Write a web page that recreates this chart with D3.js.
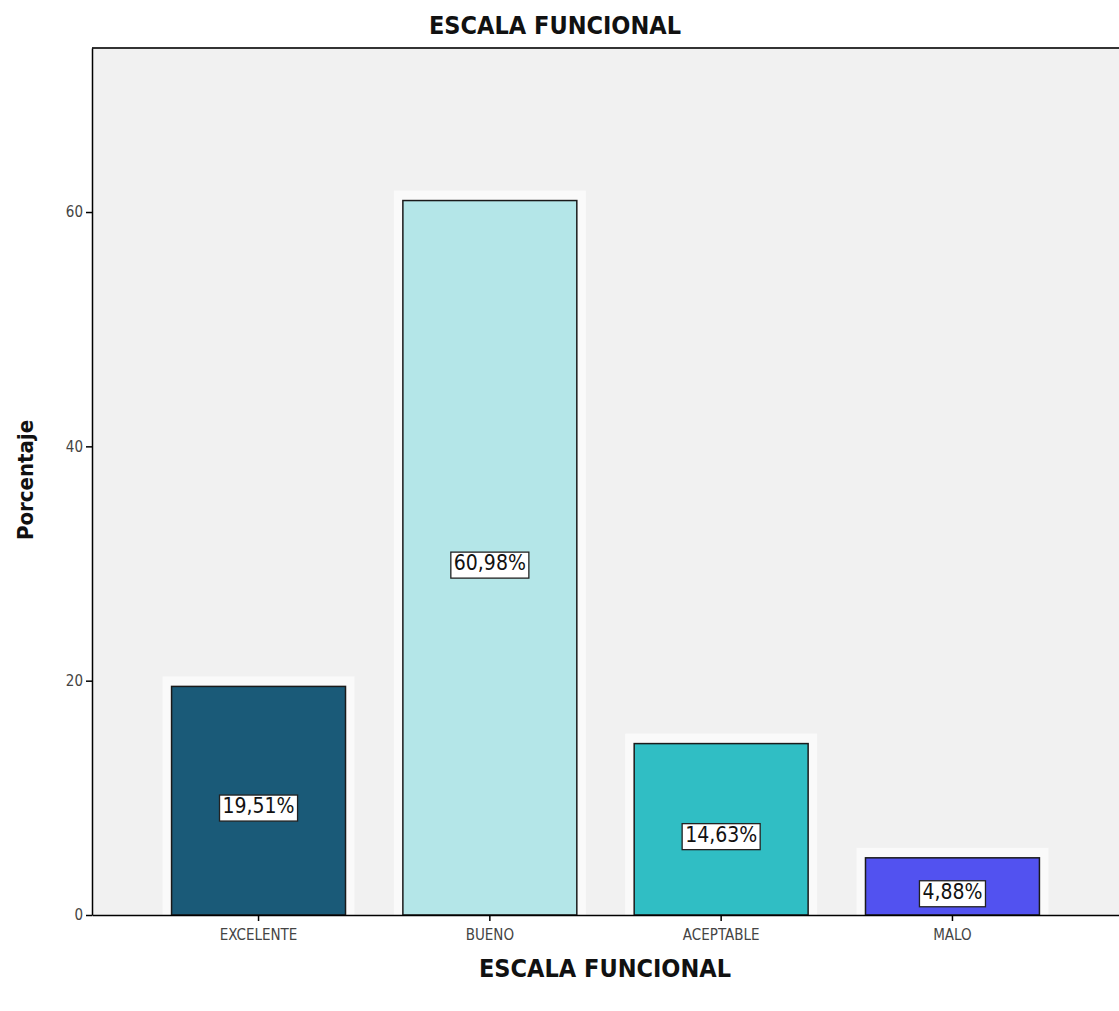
<!DOCTYPE html>
<meta charset="utf-8">
<style>
body { margin: 0; background: #fff; }
.axis text { font: 15px "DejaVu Sans Condensed", sans-serif; fill: #444; }
.axis path, .axis line { stroke: #000; stroke-width: 1.5; }
.title { font: bold 25px "DejaVu Sans Condensed", sans-serif; fill: #111; }
.lbl { font: 21px "DejaVu Sans Condensed", sans-serif; fill: #111; }
</style>
<body>
<svg width="1119" height="1011"></svg>
<script src="https://d3js.org/d3.v7.min.js"></script>
<script>
var categories = ["EXCELENTE", "BUENO", "ACEPTABLE", "MALO"];
var values = [19.51, 60.98, 14.63, 4.88];
var colors = ["#1a5a78", "#b4e6e8", "#30bec4", "#5252f0"];
var yTicks = [0, 20, 40, 60];

var data = categories.map(function(c, i) {
  return {cat: c, val: values[i], col: colors[i]};
});

var svg = d3.select("svg"),
    margin = {top: 48, right: 0, bottom: 96, left: 92},
    width = +svg.attr("width") - margin.left - margin.right,
    height = +svg.attr("height") - margin.top - margin.bottom;

var x = d3.scaleBand().domain(categories).range([0, width])
    .paddingInner(0.248).paddingOuter(0.344);
var y = d3.scaleLinear().domain([0, 74]).range([height, 0]);

var g = svg.append("g")
    .attr("transform", "translate(" + margin.left + "," + margin.top + ")");

// plot background
g.append("rect")
    .attr("width", width).attr("height", height)
    .attr("fill", "#f1f1f1");

// frame top
g.append("line")
    .attr("x1", 0).attr("x2", width).attr("y1", 0).attr("y2", 0)
    .attr("stroke", "#333").attr("stroke-width", 2);

// white halo behind bars
g.selectAll(".halo")
  .data(data)
  .enter().append("rect")
    .attr("x", function(d) { return x(d.cat) - 9; })
    .attr("y", function(d) { return y(d.val) - 10; })
    .attr("width", x.bandwidth() + 18)
    .attr("height", function(d) { return height - y(d.val) + 10; })
    .attr("fill", "#fafafa");

g.selectAll(".bar")
  .data(data)
  .enter().append("rect")
    .attr("class", "bar")
    .attr("x", function(d) { return x(d.cat); })
    .attr("y", function(d) { return y(d.val); })
    .attr("width", x.bandwidth())
    .attr("height", function(d) { return height - y(d.val); })
    .attr("fill", function(d) { return d.col; })
    .attr("stroke", "#1a1a1a")
    .attr("stroke-width", 1.5);

// value labels
var labels = g.selectAll(".vl")
  .data(data)
  .enter().append("g")
    .attr("transform", function(d) {
      return "translate(" + (x(d.cat) + x.bandwidth() / 2) + "," + (y(d.val / 2) + 5) + ")";
    });

labels.append("text")
    .attr("class", "lbl")
    .attr("text-anchor", "middle")
    .attr("dy", "0.35em")
    .text(function(d) { return d3.format(".2f")(d.val).replace(".", ",") + "%"; })
    .each(function() {
      var bb = this.getBBox();
      d3.select(this.parentNode).insert("rect", "text")
        .attr("x", bb.x - 3).attr("y", bb.y + 1)
        .attr("width", bb.width + 6).attr("height", bb.height + 2)
        .attr("fill", "#fff").attr("stroke", "#222").attr("stroke-width", 1.3);
    });

// axes
g.append("g")
    .attr("class", "axis")
    .attr("transform", "translate(0," + height + ")")
    .call(d3.axisBottom(x).tickSize(6).tickSizeOuter(0).tickPadding(8));

g.append("g")
    .attr("class", "axis")
    .call(d3.axisLeft(y).tickValues(yTicks).tickSize(6).tickSizeOuter(0).tickPadding(3));

// titles
svg.append("text")
    .attr("class", "title")
    .attr("x", 555).attr("y", 34)
    .attr("text-anchor", "middle")
    .text("ESCALA FUNCIONAL");

svg.append("text")
    .attr("class", "title")
    .attr("x", 605).attr("y", 977)
    .attr("text-anchor", "middle")
    .text("ESCALA FUNCIONAL");

svg.append("text")
    .attr("class", "title")
    .attr("transform", "translate(33,480) rotate(-90)")
    .attr("text-anchor", "middle")
    .style("font-size", "22px")
    .text("Porcentaje");
</script>
</body>
